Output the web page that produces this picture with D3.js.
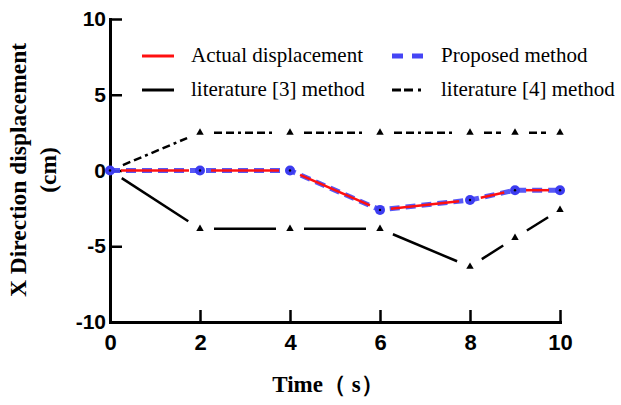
<html>

<head>
    <meta charset="utf-8">
</head>

<body style="margin:0;background:#fff">
    <script src="https://d3js.org/d3.v7.min.js"></script>
    <div id="main"></div>

    <script>
        // data
        var times = [0, 2, 4, 6, 8, 9, 10];
        var actual = [0, 0, 0, -2.6, -1.95, -1.3, -1.3];
        var proposed = [0, 0, 0, -2.6, -1.95, -1.3, -1.3];
        var lit3 = [0, -3.85, -3.85, -3.85, -6.35, -4.45, -2.6];
        var lit4 = [0, 2.5, 2.5, 2.5, 2.5, 2.5, 2.5];
        var xTicks = [0, 2, 4, 6, 8, 10];
        var yTicks = [-10, -5, 0, 5, 10];

        var margin = { top: 19, right: 61, bottom: 83, left: 110 },
            width = 621 - margin.left - margin.right,
            height = 405 - margin.top - margin.bottom;

        var svg = d3.select("#main")
            .append("svg")
            .attr("width", 621)
            .attr("height", 405)
            .append("g")
            .attr("transform", "translate(" + margin.left + "," + margin.top + ")");

        var x = d3.scaleLinear().domain([0, 10]).range([0, width]);
        var y = d3.scaleLinear().domain([-10, 10]).range([height, 0]);

        // plain hyphen for negatives, like the original
        var fmt = function (d) { return String(d); };

        // axes, ticks pointing inwards
        var xAxis = svg.append("g")
            .attr("transform", "translate(0," + height + ")")
            .call(d3.axisBottom(x).tickValues(xTicks).tickFormat(fmt).tickSizeInner(-12).tickSizeOuter(0).tickPadding(12));
        var yAxis = svg.append("g")
            .call(d3.axisLeft(y).tickValues(yTicks).tickFormat(fmt).tickSizeInner(-12).tickSizeOuter(0).tickPadding(4));

        svg.selectAll(".domain").attr("stroke", "black").attr("stroke-width", 3).attr("stroke-linecap", "square");
        svg.selectAll(".tick line").attr("stroke", "black").attr("stroke-width", 2.5);
        svg.selectAll(".tick text")
            .attr("fill", "black")
            .style("font-family", "Arial, 'Liberation Sans', sans-serif")
            .style("font-weight", "bold")
            .style("font-size", "21px");
        xAxis.selectAll(".tick text").style("font-size", "22px");

        // segment between two points, cut back near the markers
        function gapped(data, gap) {
            var segs = [];
            for (var i = 0; i < data.length - 1; i++) {
                var x1 = x(times[i]), y1 = y(data[i]), x2 = x(times[i + 1]), y2 = y(data[i + 1]);
                var len = Math.hypot(x2 - x1, y2 - y1);
                var ux = (x2 - x1) / len, uy = (y2 - y1) / len;
                segs.push([x1 + ux * gap, y1 + uy * gap, x2 - ux * gap, y2 - uy * gap]);
            }
            return segs;
        }

        function drawSegs(data, gap, color, w, dash) {
            svg.append("g")
                .selectAll("line")
                .data(gapped(data, gap))
                .enter()
                .append("line")
                .attr("x1", function (d) { return d[0]; })
                .attr("y1", function (d) { return d[1]; })
                .attr("x2", function (d) { return d[2]; })
                .attr("y2", function (d) { return d[3]; })
                .attr("stroke", color)
                .attr("stroke-width", w)
                .attr("stroke-dasharray", dash || null);
        }

        var tri = d3.symbol().type(d3.symbolTriangle).size(24);

        // triangles on every point except the origin
        function drawTriangles(data) {
            svg.append("g")
                .selectAll("path")
                .data(data.slice(1))
                .enter()
                .append("path")
                .attr("d", tri)
                .attr("transform", function (d, i) { return "translate(" + x(times[i + 1]) + "," + y(d) + ")"; })
                .attr("fill", "black");
        }

        // literature [4] : dash-dash-dot
        drawSegs(lit4, 14, "black", 2.5, "8,4,8,4,3,4");
        drawTriangles(lit4);
        // literature [3] : solid
        drawSegs(lit3, 14, "black", 2.5);
        drawTriangles(lit3);

        // proposed method: blue dashed with circles
        var line = d3.line().x(function (d, i) { return x(times[i]); }).y(function (d) { return y(d); });
        svg.append("path")
            .datum(proposed)
            .attr("d", line)
            .attr("fill", "none")
            .attr("stroke", "#4545f5")
            .attr("stroke-opacity", 0.9)
            .attr("stroke-width", 5)
            .attr("stroke-dasharray", "10,6");
        // actual displacement: red solid
        drawSegs(actual, 11, "#ff1010", 2.5);
        svg.append("g")
            .selectAll("circle")
            .data(proposed)
            .enter()
            .append("circle")
            .attr("cx", function (d, i) { return x(times[i]); })
            .attr("cy", function (d) { return y(d); })
            .attr("r", 5)
            .attr("fill", "#3c3cf0");
        svg.append("g")
            .selectAll("circle")
            .data(proposed)
            .enter()
            .append("circle")
            .attr("cx", function (d, i) { return x(times[i]); })
            .attr("cy", function (d) { return y(d); })
            .attr("r", 1.2)
            .attr("fill", "black");

        // legend
        var legend = [
            { name: "Actual displacement", color: "#ff1010", w: 3, dash: null, lx: 32, ly: 37 },
            { name: "Proposed method", color: "#4545f5", w: 5, dash: "11,9", lx: 282, ly: 37 },
            { name: "literature [3] method", color: "black", w: 3, dash: null, lx: 32, ly: 71 },
            { name: "literature [4] method", color: "black", w: 3, dash: "9,3,9,5,3,4", lx: 282, ly: 71 }
        ];
        var lg = svg.append("g").selectAll("g").data(legend).enter().append("g");
        lg.append("line")
            .attr("x1", function (d) { return d.lx; })
            .attr("x2", function (d) { return d.lx + 32; })
            .attr("y1", function (d) { return d.ly; })
            .attr("y2", function (d) { return d.ly; })
            .attr("stroke", function (d) { return d.color; })
            .attr("stroke-width", function (d) { return d.w; })
            .attr("stroke-dasharray", function (d) { return d.dash; });
        lg.append("text")
            .attr("x", function (d) { return d.lx + 49; })
            .attr("y", function (d) { return d.ly + 6; })
            .style("font-family", "'Times New Roman', 'Liberation Serif', serif")
            .style("font-size", "21px")
            .text(function (d) { return d.name; });

        // axis titles
        svg.append("text")
            .attr("transform", "rotate(-90)")
            .attr("x", -151)
            .attr("y", -84)
            .style("text-anchor", "middle")
            .style("font-family", "'Times New Roman', 'Liberation Serif', serif")
            .style("font-weight", "bold")
            .style("font-size", "23.5px")
            .text("X Direction displacement");
        svg.append("text")
            .attr("transform", "rotate(-90)")
            .attr("x", -151)
            .attr("y", -54)
            .style("text-anchor", "middle")
            .style("font-family", "'Times New Roman', 'Liberation Serif', serif")
            .style("font-weight", "bold")
            .style("font-size", "23.5px")
            .text("(cm)");
        svg.append("text")
            .attr("x", 218)
            .attr("y", 373)
            .style("text-anchor", "middle")
            .style("font-family", "'Times New Roman', 'Liberation Serif', serif")
            .style("font-weight", "bold")
            .style("font-size", "23px")
            .text("Time\uff08 s\uff09");
    </script>
</body>

</html>
